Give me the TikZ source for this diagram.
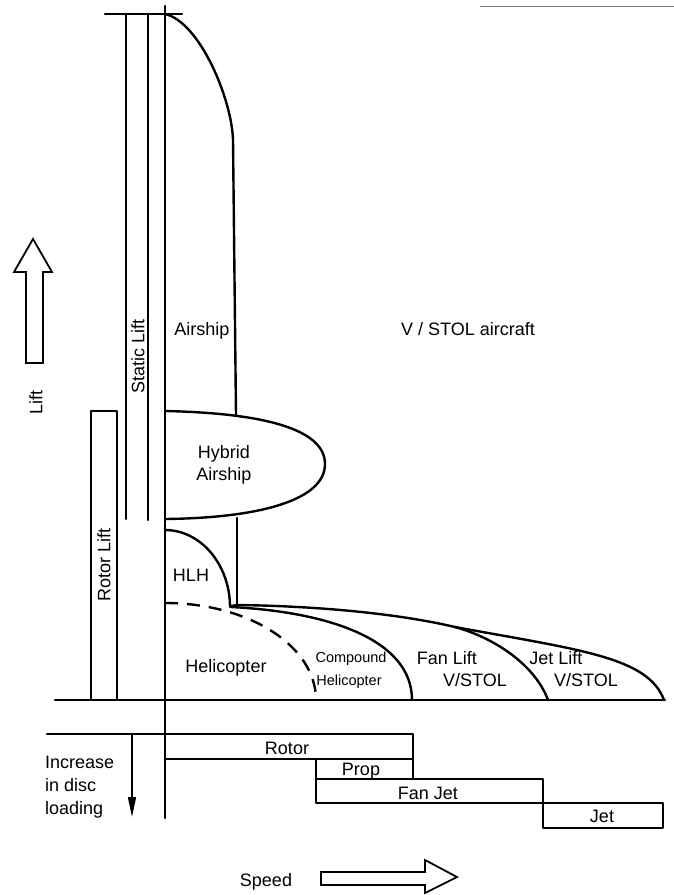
\documentclass[tikz,border=0pt]{standalone}
\usepackage{fontspec}
\setmainfont{Liberation Sans}
\usetikzlibrary{arrows.meta}
\tikzset{
  lbl/.style={font=\fontsize{18}{20}\selectfont, inner sep=0pt, text height=12.9pt, text depth=0pt},
  smalllbl/.style={font=\fontsize{14.5}{16}\selectfont, inner sep=0pt, text height=10.4pt, text depth=0pt},
  edge/.style={line width=2.4pt, line cap=round, line join=round},
  thinedge/.style={line width=2pt, line cap=round, line join=round},
  blockarrow/.style={line width=1.8pt, line join=miter},
  dashedge/.style={line width=2.4pt, dash pattern=on 13pt off 9pt}
}
\begin{document}
\begin{tikzpicture}[x=1pt, y=-1pt]
\useasboundingbox (0,0) rectangle (674,895);
% stray top-right rule
\draw[gray, line width=1pt] (480,6) -- (674,6);
% main vertical axis and top line
\draw[edge] (165,6) -- (165,818);
\draw[edge] (105,14) -- (182,14);
% static lift bars
\draw[thinedge] (126,14) -- (126,519);
\draw[thinedge] (148,14) -- (148,520);
% rotor lift bar
\draw[edge] (91,700) -- (91,411) -- (117,411) -- (117,700);
% ground line
\draw[edge] (55,700) -- (665,700);
% airship
\draw[edge] (165,14) .. controls (200,22) and (232,100) .. (233,140) -- (236,415);
% hybrid airship
\draw[edge] (165,411) .. controls (260,413) and (325,428) .. (325,464)
  .. controls (325,500) and (260,518) .. (165,519);
\draw[edge] (237,518) -- (237,605);
% HLH
\draw[edge] (165,530) .. controls (201,530) and (230,565) .. (230,607);
% helicopter dashed boundary
\draw[dashedge] (165,603) .. controls (249,603) and (316,646) .. (316,700);
% compound helicopter boundary
\draw[edge] (231,607) .. controls (330,612) and (412,640) .. (412,700);
% fan lift boundary / envelope
\draw[edge] (231,606) -- (237,605) .. controls (320,606) and (400,614) .. (455,627)
  .. controls (495,638) and (535,665) .. (548,700);
% jet lift envelope
\draw[edge] (455,627) .. controls (580,650) and (648,657) .. (664,700);
% disc loading boxes
\draw[edge] (47,734) -- (165,734);
\draw[edge] (165,734) rectangle (413,759);
\draw[edge] (316,759) rectangle (413,779);
\draw[edge] (316,779) rectangle (543,803);
\draw[edge] (543,803) rectangle (663,828);
% disc loading arrow
\coordinate (dtop) at (132,734);
\coordinate (dbot) at (132,817);
\draw[line width=1.6pt, -{Triangle[length=20pt,width=8pt]}] (dtop) -- (dbot);
% lift block arrow
\draw[blockarrow] (26,363) -- (26,272) -- (14,272) -- (33,239) -- (52,272) -- (43,272) -- (43,363) -- cycle;
% speed block arrow
\draw[blockarrow] (321,872) -- (425,872) -- (425,860) -- (457,877) -- (425,893) -- (425,885) -- (321,885) -- cycle;
% labels
\node[lbl] (airship) at (202,329) {Airship};
\node[lbl] (vstol) at (468,329) {V / STOL aircraft};
\node[lbl] (hybrid1) at (224,452) {Hybrid};
\node[lbl] (hybrid2) at (224,474) {Airship};
\node[lbl] (hlh) at (191,575) {HLH};
\node[lbl] (heli) at (226,666) {Helicopter};
\node[smalllbl] (comp1) at (351,657) {Compound};
\node[smalllbl] (comp2) at (349,680) {Helicopter};
\node[lbl] (fan1) at (447,658) {Fan Lift};
\node[lbl] (fan2) at (475,680) {V/STOL};
\node[lbl] (jet1) at (556,658) {Jet Lift};
\node[lbl] (jet2) at (586,680) {V/STOL};
\node[lbl, rotate=90] (static) at (138,356) {Static Lift};
\node[lbl, rotate=90] (rotorlift) at (104,565) {Rotor Lift};
\node[lbl, rotate=90] (lift) at (36,402) {Lift};
\node[lbl] (rotor) at (287,748) {Rotor};
\node[lbl] (prop) at (361,769) {Prop};
\node[lbl] (fanjet) at (428,793) {Fan Jet};
\node[lbl] (jet) at (602,816) {Jet};
\node[lbl, anchor=west] (inc1) at (45,762) {Increase};
\node[lbl, anchor=west] (inc2) at (45,785) {in disc};
\node[lbl, anchor=west] (inc3) at (45,808) {loading};
\node[lbl] (speed) at (266,880) {Speed};
\end{tikzpicture}
\end{document}
